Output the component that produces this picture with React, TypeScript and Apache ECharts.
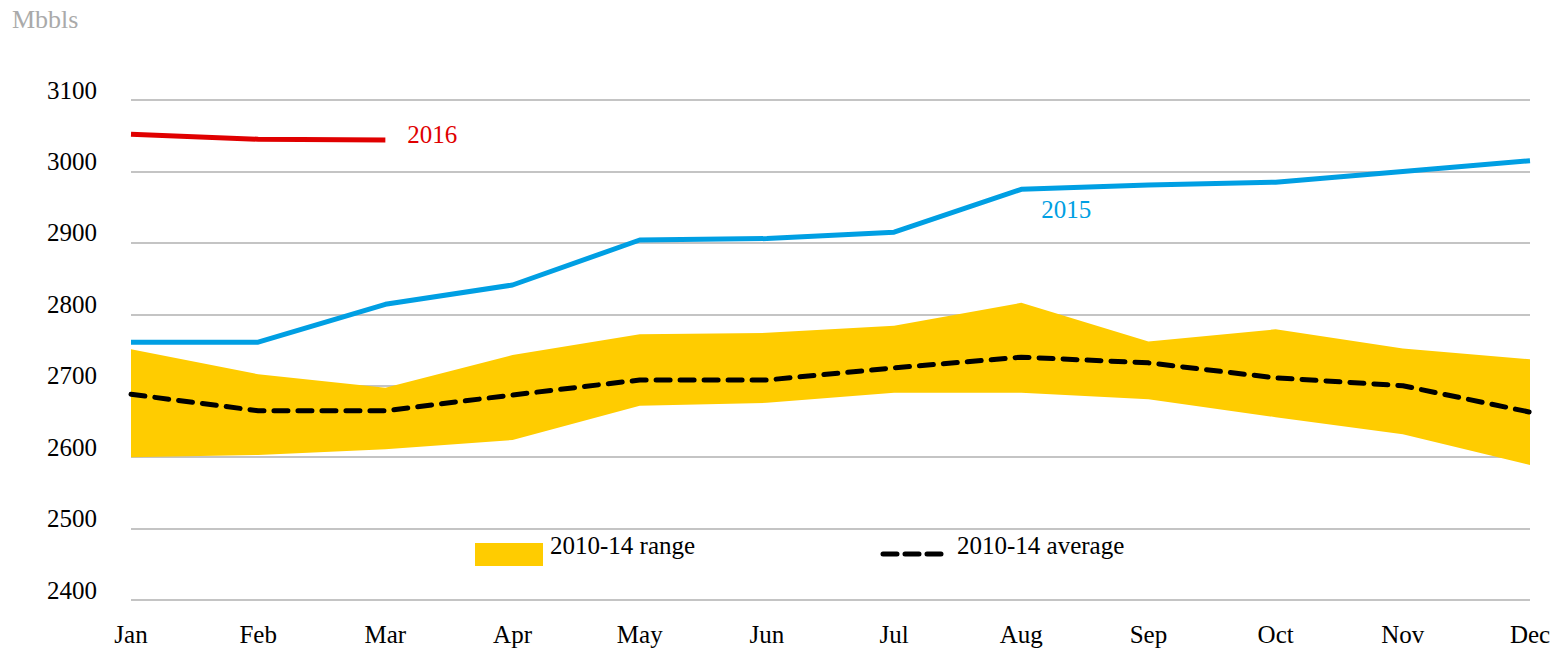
import React, { useEffect, useRef } from "react";
import * as echarts from "echarts";

const months = ["Jan", "Feb", "Mar", "Apr", "May", "Jun", "Jul", "Aug", "Sep", "Oct", "Nov", "Dec"];
const yTicks = [2400, 2500, 2600, 2700, 2800, 2900, 3000, 3100];
const s2016 = [3052, 3045, 3044];
const s2015 = [2761, 2761, 2814, 2841, 2904, 2906, 2915, 2975, 2981, 2985, 3000, 3015];
const rangeLow = [2600, 2603, 2611, 2624, 2672, 2676, 2690, 2690, 2681, 2656, 2632, 2589];
const rangeHigh = [2751, 2716, 2697, 2743, 2772, 2774, 2784, 2816, 2762, 2779, 2752, 2737];
const avg5y = [2688, 2665, 2665, 2687, 2708, 2708, 2725, 2740, 2732, 2711, 2700, 2663];

const FONT = "'Liberation Serif', 'DejaVu Serif', serif";

export default function App() {
  const ref = useRef<HTMLDivElement>(null);
  useEffect(() => {
    if (!ref.current) return;
    const chart = echarts.init(ref.current, null, { renderer: "svg" });
    const rangeDiff = rangeHigh.map((h, i) => h - rangeLow[i]);
    chart.setOption({
      animation: false,
      textStyle: { fontFamily: FONT },
      grid: { left: 131, right: 25, top: 100, bottom: 50 },
      xAxis: {
        type: "category",
        data: months,
        boundaryGap: false,
        axisLine: { show: false },
        axisTick: { show: false },
        axisLabel: { color: "#000", fontSize: 25, fontFamily: FONT, margin: 22 },
        splitLine: { show: false },
      },
      yAxis: {
        type: "value",
        min: yTicks[0],
        max: yTicks[yTicks.length - 1],
        interval: 100,
        axisLine: { show: false },
        axisTick: { show: false },
        axisLabel: {
          color: "#000",
          fontSize: 25,
          fontFamily: FONT,
          margin: 34,
          verticalAlign: "bottom",
          lineHeight: 20,
          formatter: (v: number) => String(v),
        },
        splitLine: { lineStyle: { color: "#c4c4c4", width: 2 } },
      },
      series: [
        {
          name: "low",
          type: "line",
          stack: "range",
          data: rangeLow,
          symbol: "none",
          lineStyle: { width: 0 },
          silent: true,
        },
        {
          name: "2010-14 range",
          type: "line",
          stack: "range",
          data: rangeDiff,
          symbol: "none",
          lineStyle: { width: 0 },
          areaStyle: { color: "#ffcc00", opacity: 1 },
        },
        {
          name: "2010-14 average",
          type: "line",
          data: avg5y,
          symbol: "none",
          lineStyle: { color: "#000", width: 5, type: [14, 10], cap: "round" },
        },
        {
          name: "2015",
          type: "line",
          data: s2015,
          symbol: "none",
          lineStyle: { color: "#009fe3", width: 5 },
          markPoint: {
            symbol: "circle",
            symbolSize: 0,
            data: [{ coord: [months[7], s2015[7]], value: "2015" }],
            label: {
              show: true,
              position: "bottom",
              distance: 8,
              offset: [45, 0],
              formatter: "2015",
              color: "#009fe3",
              fontSize: 25,
              fontFamily: FONT,
            },
          },
        },
        {
          name: "2016",
          type: "line",
          data: s2016,
          symbol: "none",
          lineStyle: { color: "#e00000", width: 5 },
          endLabel: {
            show: true,
            formatter: "2016",
            color: "#e00000",
            fontSize: 25,
            fontFamily: FONT,
            distance: 22,
            offset: [0, -6],
          },
        },
      ],
      graphic: [
        {
          type: "text",
          left: 12,
          top: 6,
          style: { text: "Mbbls", fill: "#aaaaaa", fontSize: 26, fontFamily: FONT },
        },
        {
          type: "rect",
          shape: { x: 475, y: 543, width: 68, height: 23 },
          style: { fill: "#ffcc00" },
        },
        {
          type: "text",
          x: 550,
          y: 545,
          style: { text: "2010-14 range", fill: "#000", fontSize: 25, fontFamily: FONT, textVerticalAlign: "middle" },
        },
        {
          type: "line",
          shape: { x1: 883, y1: 554, x2: 942, y2: 554 },
          style: { stroke: "#000", lineWidth: 5, lineDash: [14, 8], lineCap: "round" },
        },
        {
          type: "text",
          x: 957,
          y: 545,
          style: { text: "2010-14 average", fill: "#000", fontSize: 25, fontFamily: FONT, textVerticalAlign: "middle" },
        },
      ],
    });
    return () => chart.dispose();
  }, []);
  return (
    <div
      ref={ref}
      style={{ position: "fixed", left: 0, top: 0, width: 1555, height: 650, background: "#fff" }}
    />
  );
}
